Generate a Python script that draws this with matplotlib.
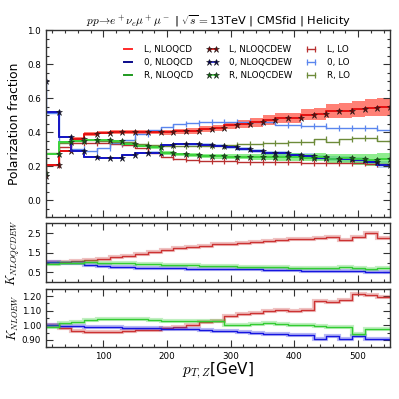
import numpy as np
import matplotlib
matplotlib.use('Agg')
import matplotlib.pyplot as plt
from matplotlib.ticker import MultipleLocator, FixedLocator, FormatStrFormatter

plt.rcParams['mathtext.fontset'] = 'cm'
plt.rcParams['font.family'] = ['DejaVu Sans']

# bin right edges (GeV); the first point (10) is only a marker at the left edge
pt_edges = [10, 30, 50, 70, 90, 110, 130, 150, 170, 190, 210, 230, 250, 270, 290,
            310, 330, 350, 370, 390, 410, 430, 450, 470, 490, 510, 530, 550]

# polarization fractions, NLO QCD
frac_L_nloqcd = [0.14, 0.21, 0.29, 0.36, 0.39, 0.398, 0.402, 0.402, 0.402, 0.400, 0.400, 0.404,
                 0.408, 0.42, 0.424, 0.44, 0.449, 0.459, 0.473, 0.481, 0.483, 0.503, 0.507,
                 0.525, 0.526, 0.536, 0.542, 0.545]
frac_0_nloqcd = [0.70, 0.52, 0.37, 0.29, 0.255, 0.25, 0.25, 0.265, 0.279, 0.28, 0.325, 0.33,
                 0.33, 0.325, 0.32, 0.31, 0.30, 0.29, 0.28, 0.275, 0.265, 0.26, 0.25, 0.245,
                 0.24, 0.235, 0.225, 0.21]
frac_R_nloqcd = [0.16, 0.27, 0.34, 0.35, 0.355, 0.352, 0.348, 0.333, 0.319, 0.31, 0.278, 0.27,
                 0.266, 0.26, 0.258, 0.255, 0.255, 0.255, 0.254, 0.252, 0.255, 0.25, 0.252,
                 0.245, 0.246, 0.24, 0.236, 0.245]
# NLO QCD+EW
frac_L_nloqcdew = frac_L_nloqcd
frac_0_nloqcdew = frac_0_nloqcd
frac_R_nloqcdew = frac_R_nloqcd
# uncertainty bands (half widths)
band_L = [0.0, 0.0, 0.006, 0.009, 0.01, 0.01, 0.011, 0.012, 0.012, 0.013, 0.014, 0.015, 0.016,
          0.018, 0.02, 0.022, 0.024, 0.026, 0.028, 0.03, 0.032, 0.034, 0.037, 0.04, 0.043,
          0.046, 0.05, 0.053]
band_0 = [0.0, 0.0, 0.004, 0.005, 0.005, 0.005, 0.006, 0.006, 0.007, 0.007, 0.008, 0.008, 0.009,
          0.009, 0.01, 0.01, 0.011, 0.012, 0.012, 0.013, 0.014, 0.015, 0.016, 0.017, 0.018,
          0.019, 0.02, 0.02]
band_R = [0.0, 0.0, 0.005, 0.006, 0.006, 0.007, 0.007, 0.008, 0.008, 0.009, 0.01, 0.01, 0.011,
          0.012, 0.013, 0.014, 0.015, 0.016, 0.018, 0.02, 0.022, 0.022, 0.024, 0.026, 0.028,
          0.032, 0.035, 0.035]
# LO
frac_L_lo = [0.14, 0.21, 0.31, 0.335, 0.335, 0.335, 0.33, 0.325, 0.305, 0.275, 0.255, 0.245,
             0.235, 0.232, 0.23, 0.228, 0.226, 0.225, 0.224, 0.222, 0.222, 0.22, 0.22, 0.218,
             0.218, 0.216, 0.215, 0.212]
frac_0_lo = [0.70, 0.515, 0.34, 0.30, 0.29, 0.305, 0.335, 0.355, 0.39, 0.41, 0.433, 0.45, 0.455,
             0.46, 0.46, 0.46, 0.46, 0.459, 0.459, 0.443, 0.443, 0.437, 0.437, 0.424, 0.424,
             0.424, 0.424, 0.414]
frac_R_lo = [0.16, 0.275, 0.335, 0.35, 0.355, 0.35, 0.345, 0.34, 0.33, 0.325, 0.32, 0.32, 0.318,
             0.32, 0.32, 0.325, 0.33, 0.33, 0.335, 0.338, 0.344, 0.344, 0.36, 0.344, 0.36,
             0.364, 0.368, 0.35]

# K factors NLOQCDEW / LO
k_qcdew_L = [1.03, 1.03, 1.03, 1.06, 1.11, 1.19, 1.28, 1.36, 1.46, 1.54, 1.62, 1.72, 1.80, 1.87,
             1.95, 1.97, 2.01, 2.06, 2.09, 2.13, 2.18, 2.20, 2.25, 2.32, 2.14, 2.32, 2.49, 2.23]
k_qcdew_0 = [1.03, 1.03, 1.0, 0.97, 0.89, 0.84, 0.78, 0.76, 0.73, 0.72, 0.72, 0.71, 0.70, 0.69,
             0.68, 0.67, 0.67, 0.66, 0.64, 0.62, 0.61, 0.60, 0.59, 0.58, 0.57, 0.55, 0.54, 0.53]
k_qcdew_R = [0.95, 0.95, 0.98, 1.0, 1.02, 1.0, 0.98, 0.97, 0.95, 0.93, 0.90, 0.88, 0.86, 0.85,
             0.83, 0.82, 0.80, 0.78, 0.77, 0.76, 0.75, 0.74, 0.73, 0.72, 0.78, 0.72, 0.68, 0.72]
# K factors NLOEW
k_ew_L = [1.005, 1.005, 0.98, 0.963, 0.955, 0.952, 0.952, 0.96, 0.965, 0.965, 0.985, 0.99, 1.0,
          1.02, 1.03, 1.065, 1.075, 1.085, 1.095, 1.105, 1.10, 1.105, 1.165, 1.16, 1.175, 1.215,
          1.21, 1.19]
k_ew_0 = [1.0, 1.0, 0.993, 0.993, 0.99, 0.986, 0.986, 0.98, 0.98, 0.98, 0.977, 0.972, 0.972,
          0.97, 0.963, 0.96, 0.957, 0.95, 0.94, 0.94, 0.934, 0.934, 0.91, 0.925, 0.906, 0.927,
          0.905, 0.905]
k_ew_R = [0.99, 0.99, 1.016, 1.025, 1.037, 1.044, 1.046, 1.046, 1.044, 1.037, 1.028, 1.032,
          1.032, 1.028, 1.028, 1.005, 1.005, 1.01, 1.014, 1.01, 1.005, 1.005, 0.998, 0.99, 0.99,
          0.94, 0.978, 0.978]

x = np.array(pt_edges)

fig = plt.figure(figsize=(3.99, 3.99), dpi=100)
W = 399.0
left, right = 46 / W, 390 / W
ax = fig.add_axes([left, 1 - 217.3 / W, right - left, (217.3 - 30) / W])
ax1 = fig.add_axes([left, 1 - 282.3 / W, right - left, (282.3 - 223.3) / W])
ax2 = fig.add_axes([left, 1 - 347.3 / W, right - left, (347.3 - 288.7) / W])

# colours
c_L_qcd, c_0_qcd, c_R_qcd = '#ff2a2a', '#0a0a8a', '#1f9a1f'
c_L_ew, c_0_ew, c_R_ew = '#e01010', '#1a1ad0', '#44dd44'
c_L_lo, c_0_lo, c_R_lo = '#b83030', '#5b86ee', '#6d8b3a'

# bands
for y, b, col, a in [(frac_L_nloqcdew, band_L, '#ff4a3a', 0.7),
                     (frac_0_nloqcdew, band_0, '#6f9fe8', 0.5),
                     (frac_R_nloqcdew, band_R, '#44e044', 0.6)]:
    y = np.array(y); b = np.array(b)
    ax.fill_between(x, y - b, y + b, step='pre', color=col, alpha=a, lw=0)

# LO
for y, col, lab in [(frac_L_lo, c_L_lo, 'L, LO'), (frac_0_lo, c_0_lo, '0, LO'),
                    (frac_R_lo, c_R_lo, 'R, LO')]:
    ax.plot(x, y, drawstyle='steps-pre', color=col, lw=1.0, marker='|', ms=4.5, mew=0.9,
            label=lab)

# NLOQCD
h_qcd = []
for y, col, lab in [(frac_L_nloqcd, c_L_qcd, 'L, NLOQCD'), (frac_0_nloqcd, c_0_qcd, '0, NLOQCD'),
                    (frac_R_nloqcd, c_R_qcd, 'R, NLOQCD')]:
    h, = ax.plot(x, y, drawstyle='steps-pre', color=col, lw=1.4, label=lab)
    h_qcd.append(h)

# NLOQCDEW
h_ew = []
for y, col, mfc, lab in [(frac_L_nloqcdew, c_L_ew, '#7a0000', 'L, NLOQCDEW'),
                         (frac_0_nloqcdew, c_0_ew, '#000050', '0, NLOQCDEW'),
                         (frac_R_nloqcdew, c_R_ew, '#0a6a0a', 'R, NLOQCDEW')]:
    h, = ax.plot(x, y, drawstyle='steps-pre', color=col, lw=1.2, marker='*', ms=4.5,
                 mfc=mfc, mec='#202020', mew=0.4, label=lab)
    h_ew.append(h)

handles, labels = ax.get_legend_handles_labels()
lo_h = handles[:3]
order = h_qcd + h_ew + lo_h
ax.legend(order, [h.get_label() for h in order], ncol=3, loc='upper left',
          bbox_to_anchor=(0.22, 0.918), frameon=False, fontsize=6.3, numpoints=2,
          handlelength=1.5, handletextpad=1.1, columnspacing=1.4, labelspacing=0.45,
          borderpad=0, borderaxespad=0)

ax.set_xlim(10, 550)
ax.set_ylim(-0.1, 1.0)
ax.set_title(r'$pp\!\rightarrow\! e^+\nu_e\mu^+\mu^-$ | $\sqrt{s}=$13TeV | CMSfid | Helicity',
             fontsize=8.2, pad=4)
ax.set_ylabel('Polarization fraction', fontsize=8.8)
ax.yaxis.set_major_locator(FixedLocator([0.0, 0.2, 0.4, 0.6, 0.8, 1.0]))
ax.yaxis.set_major_formatter(FormatStrFormatter('%.1f'))
ax.yaxis.set_minor_locator(MultipleLocator(0.05))

# ratio panel 1
for y, col in [(k_qcdew_L, '#cc3333'), (k_qcdew_0, '#1515e0'), (k_qcdew_R, '#33cc33')]:
    ax1.plot(x, y, drawstyle='steps-pre', color=col, lw=3.0, alpha=0.3, solid_joinstyle='miter')
    ax1.plot(x, y, drawstyle='steps-pre', color=col, lw=1.0)
ax1.set_xlim(10, 550)
ax1.set_ylim(0, 3)
ax1.yaxis.set_major_locator(FixedLocator([0.5, 1.5, 2.5]))
ax1.yaxis.set_minor_locator(FixedLocator([0.0, 1.0, 2.0, 3.0]))
ax1.yaxis.set_major_formatter(FormatStrFormatter('%.1f'))
ax1.set_ylabel(r'$K_{NLOQCDEW}$', fontsize=8.8)

# ratio panel 2
for y, col in [(k_ew_L, '#cc3333'), (k_ew_0, '#1515e0'), (k_ew_R, '#33cc33')]:
    ax2.plot(x, y, drawstyle='steps-pre', color=col, lw=3.0, alpha=0.3, solid_joinstyle='miter')
    ax2.plot(x, y, drawstyle='steps-pre', color=col, lw=1.0)
ax2.set_xlim(10, 550)
ax2.set_ylim(0.85, 1.25)
ax2.yaxis.set_major_locator(FixedLocator([0.9, 1.0, 1.1, 1.2]))
ax2.yaxis.set_minor_locator(MultipleLocator(0.05))
ax2.yaxis.set_major_formatter(FormatStrFormatter('%.2f'))
ax2.set_ylabel(r'$K_{NLOEW}$', fontsize=8.8)
ax2.set_xlabel(r'$p_{T,Z}$[GeV]', fontsize=11, labelpad=0)

for a in (ax, ax1, ax2):
    a.xaxis.set_major_locator(MultipleLocator(100))
    a.xaxis.set_minor_locator(MultipleLocator(20))
    a.tick_params(which='both', direction='in', top=True, right=True, labelsize=6.3,
                  width=0.8, colors='#333333', labelcolor='black')
    a.tick_params(which='major', length=5)
    a.tick_params(which='minor', length=2.5)
    for s in a.spines.values():
        s.set_color('#333333')
        s.set_linewidth(1.0)
    a.yaxis.set_label_coords(-0.072, 0.5)
for a in (ax, ax1):
    a.tick_params(labelbottom=False)

fig.savefig('out.png', dpi=100)
